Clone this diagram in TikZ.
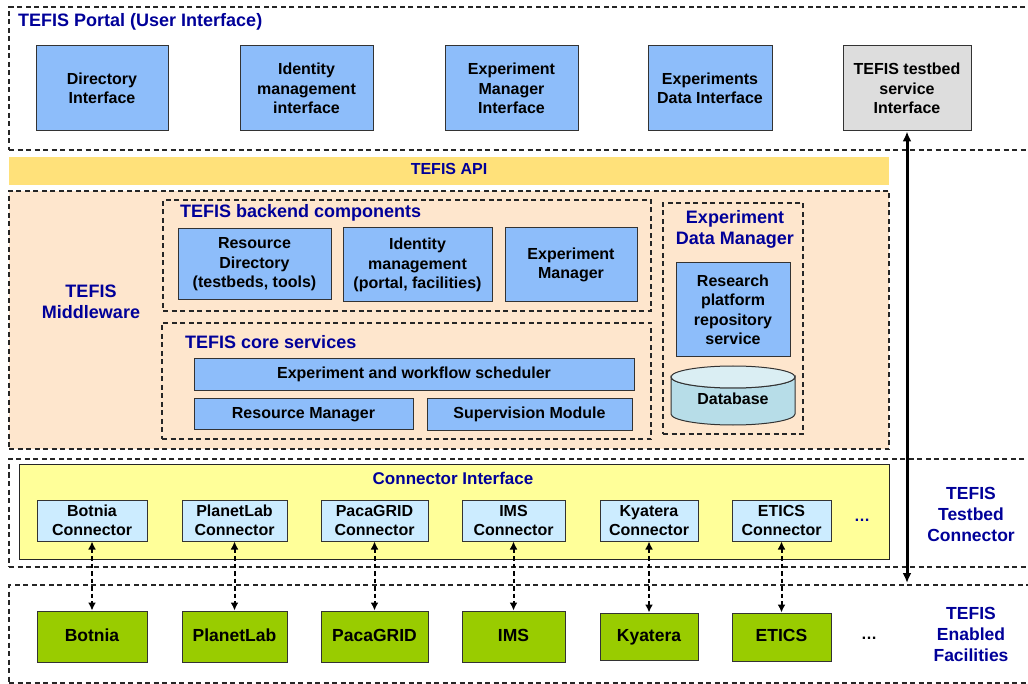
\documentclass[tikz,border=0pt]{standalone}
\usepackage{fontspec}
\setmainfont{Liberation Sans}
\usetikzlibrary{arrows.meta}
\definecolor{hdr}{RGB}{0,0,153}
\definecolor{boxblue}{RGB}{141,189,250}
\definecolor{peach}{RGB}{254,230,205}
\definecolor{apiyel}{RGB}{255,225,122}
\definecolor{ciyel}{RGB}{255,255,153}
\definecolor{connblue}{RGB}{204,236,255}
\definecolor{facgreen}{RGB}{153,204,0}
\definecolor{tsgray}{RGB}{221,221,221}
\definecolor{dbbody}{RGB}{183,221,232}
\definecolor{dbtop}{RGB}{218,238,243}
\newcommand{\bodyf}{\fontsize{16}{19.5}\selectfont\bfseries}
\newcommand{\hdrf}{\fontsize{18}{21}\selectfont\bfseries}
\newcommand{\facf}{\fontsize{17.5}{20}\selectfont\bfseries}
\begin{document}
\begin{tikzpicture}[x=1pt,y=-1pt,
  box/.style={draw=black!80, line width=1pt, inner sep=0pt, align=center, font=\bodyf, text=black},
  bluebox/.style={box, fill=boxblue},
  connbox/.style={box, fill=connblue},
  oneline/.style={text height=11.5pt, text depth=3.5pt},
  facbox/.style={box, fill=facgreen, font=\facf, text height=12.5pt, text depth=3.5pt},
  container/.style={draw=black!85, line width=1.2pt, dash pattern=on 5pt off 3.5pt, inner sep=0pt},
  hdrtext/.style={text=hdr, font=\hdrf, inner sep=0pt, align=center},
  dasharrow/.style={line width=2pt, dash pattern=on 4.5pt off 3pt, {Latex[length=8pt,width=8pt]}-{Latex[length=8pt,width=8pt]}},
  bigarrow/.style={line width=3pt, {Latex[length=10pt,width=9pt]}-{Latex[length=10pt,width=9pt]}}
]
\useasboundingbox (0,0) rectangle (1028,684);
\fill[white] (0,0) rectangle (1028,684);

% ---------- Portal ----------
\node[container, minimum width=1023, minimum height=143] (portal) at (520.5,78.5) {};
\node[hdrtext, anchor=west] (portalT) at (18,22) {TEFIS Portal (User Interface)};
\node[bluebox, minimum width=132, minimum height=85] (dir) at (102,88.5) {Directory\\Interface};
\node[bluebox, minimum width=133, minimum height=85] (idm) at (306.5,88.5) {Identity\\management\\interface};
\node[bluebox, minimum width=133, minimum height=85] (emi) at (511.5,88.5) {Experiment\\Manager\\Interface};
\node[bluebox, minimum width=124, minimum height=85] (edi) at (710,88.5) {Experiments\\Data Interface};
\node[box, fill=tsgray, minimum width=128, minimum height=85] (tsi) at (907,88.5) {TEFIS testbed\\service\\Interface};

% ---------- API ----------
\node[fill=apiyel, minimum width=880, minimum height=28, inner sep=0pt, text=hdr, font=\bodyf, oneline] (api) at (449,171) {TEFIS API};

% ---------- Middleware ----------
\node[container, fill=peach, minimum width=880, minimum height=258] (mw) at (449,320) {};
\node[hdrtext] (mwT) at (91,301.5) {TEFIS\\Middleware};

\node[container, minimum width=488, minimum height=111] (backend) at (407,255.5) {};
\node[hdrtext, anchor=west] (backendT) at (180,213) {TEFIS backend components};
\node[bluebox, minimum width=153, minimum height=71] (rd) at (254.5,264.5) {Resource\\Directory\\(testbeds, tools)};
\node[bluebox, minimum width=149, minimum height=74] (idmb) at (417.5,265) {Identity\\management\\(portal, facilities)};
\node[bluebox, minimum width=132, minimum height=74] (em) at (571,265) {Experiment\\Manager};

\node[container, minimum width=489, minimum height=116] (core) at (406.5,381) {};
\node[hdrtext, anchor=west] (coreT) at (185,342) {TEFIS core services};
\node[bluebox, oneline, minimum width=440, minimum height=32] (sched) at (414,375) {Experiment and workflow scheduler};
\node[bluebox, oneline, minimum width=219, minimum height=30] (rm) at (303.5,414) {Resource Manager};
\node[bluebox, oneline, minimum width=205, minimum height=31] (sup) at (529.5,414.5) {Supervision Module};

\node[container, minimum width=140, minimum height=231] (edm) at (733,318.5) {};
\node[hdrtext] (edmT) at (735,229) {Experiment\\Data Manager};
\node[bluebox, minimum width=114, minimum height=94] (rprs) at (733,310) {Research\\platform\\repository\\service};
% Database cylinder
\draw[draw=black!80, line width=1pt, fill=dbbody] (671,377) -- (671,414)
  arc[start angle=180, end angle=0, x radius=62, y radius=11] -- (795,377)
  arc[start angle=0, end angle=180, x radius=62, y radius=11] -- cycle;
\draw[draw=black!80, line width=1pt, fill=dbtop] (733,377) ellipse[x radius=62, y radius=11];
\node[inner sep=0pt, font=\bodyf, oneline] (db) at (733,400) {Database};

% ---------- Testbed connector ----------
\node[container, minimum width=1023, minimum height=108] (tbc) at (520.5,513) {};
\node[draw=black!85, line width=1pt, fill=ciyel, minimum width=870, minimum height=95, inner sep=0pt] (ci) at (454,511.5) {};
\node[text=hdr, font=\fontsize{17}{20}\selectfont\bfseries, inner sep=0pt, oneline] (ciT) at (453,480) {Connector Interface};
\node[connbox, minimum width=110, minimum height=41] (cb) at (92,520.5) {Botnia\\Connector};
\node[connbox, minimum width=105, minimum height=41] (cp) at (234.5,520.5) {PlanetLab\\Connector};
\node[connbox, minimum width=107, minimum height=41] (cg) at (374.5,520.5) {PacaGRID\\Connector};
\node[connbox, minimum width=103, minimum height=41] (cims) at (513.5,520.5) {IMS\\Connector};
\node[connbox, minimum width=98, minimum height=41] (ck) at (649,520.5) {Kyatera\\Connector};
\node[connbox, minimum width=99, minimum height=41] (ce) at (781.5,520.5) {ETICS\\Connector};
\node[text=hdr, font=\bodyf, inner sep=0pt] (cdots) at (862,520) {\dots};
\node[hdrtext, font=\fontsize{17.5}{21}\selectfont\bfseries] (tbcT) at (971,514) {TEFIS\\Testbed\\Connector};

% ---------- Facilities ----------
\node[container, minimum width=1023, minimum height=98] (fac) at (520.5,634) {};
\node[facbox, minimum width=110, minimum height=51] (fb) at (92,636.5) {Botnia};
\node[facbox, minimum width=105, minimum height=51] (fp) at (234.5,636.5) {PlanetLab};
\node[facbox, minimum width=107, minimum height=51] (fg) at (374.5,636.5) {PacaGRID};
\node[facbox, minimum width=103, minimum height=51] (fims) at (513.5,636.5) {IMS};
\node[facbox, minimum width=98, minimum height=47] (fk) at (649,636.5) {Kyatera};
\node[facbox, minimum width=99, minimum height=48] (fe) at (781.5,637) {ETICS};
\node[font=\bodyf, inner sep=0pt] (fdots) at (869,638) {\dots};
\node[hdrtext, font=\fontsize{17.5}{21}\selectfont\bfseries] (facT) at (971,634) {TEFIS\\Enabled\\Facilities};

% ---------- Connectors ----------
\draw[dasharrow] (cb.south) -- (fb.north);
\draw[dasharrow] (cp.south) -- (fp.north);
\draw[dasharrow] (cg.south) -- (fg.north);
\draw[dasharrow] (cims.south) -- (fims.north);
\draw[dasharrow] (ck.south) -- (fk.north);
\draw[dasharrow] (ce.south) -- (fe.north);

\coordinate (arrEnd) at (907,583);
\draw[bigarrow] (tsi.south) -- (tsi.south |- arrEnd);
\end{tikzpicture}
\end{document}
